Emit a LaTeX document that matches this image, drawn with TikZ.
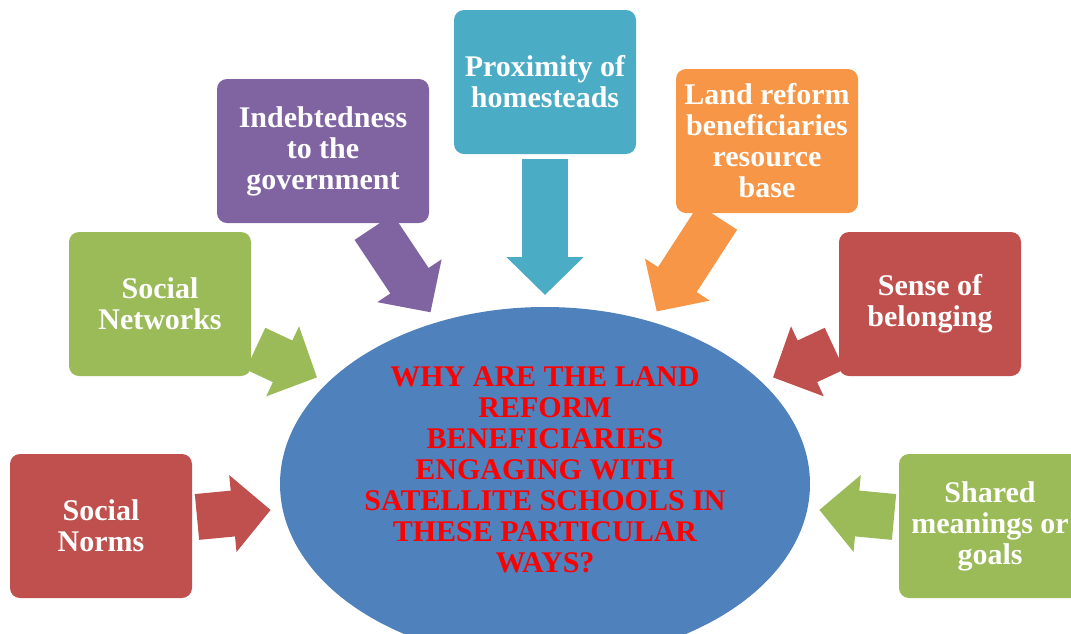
\documentclass[tikz,border=0pt]{standalone}
\usepackage{fontspec}
\setmainfont{Liberation Serif}
\usetikzlibrary{shapes.geometric,arrows.meta}
\definecolor{boxred}{HTML}{C0504D}
\definecolor{boxgreen}{HTML}{9BBB59}
\definecolor{boxpurple}{HTML}{8064A2}
\definecolor{boxteal}{HTML}{4BACC6}
\definecolor{boxorange}{HTML}{F79646}
\definecolor{qblue}{HTML}{4F81BD}
\definecolor{qred}{HTML}{FF0000}
\tikzset{
  factor/.style={draw=none, rounded corners=10pt, minimum width=182pt, minimum height=144pt,
    outer sep=0pt, inner sep=2pt, align=center, text=white,
    font=\fontsize{30}{31}\selectfont\bfseries},
  blockarrow/.style={line width=46pt, -{Triangle[length=38pt,width=75pt]},
    shorten <=5pt, shorten >=12pt}
}
\begin{document}
\begin{tikzpicture}[x=1pt,y=1pt,yscale=-1]
\clip (0,0) rectangle (1071,633);

%Ellipse [question]
\node[ellipse, fill=qblue, minimum width=530pt, minimum height=354pt, inner sep=0pt, outer sep=0pt] (q) at (545,484) {};
\node[align=center, text=qred, font=\fontsize{30}{31}\selectfont\bfseries] (qtext) at (545,470)
  {WHY ARE THE LAND\\REFORM\\BENEFICIARIES\\ENGAGING WITH\\SATELLITE SCHOOLS IN\\THESE PARTICULAR\\WAYS?};

%Rounded Rects [factors]
\node[factor, fill=boxred] (norms) at (101,526) {Social\\Norms};
\node[factor, fill=boxgreen] (networks) at (160,304) {Social\\Networks};
\node[factor, fill=boxpurple, minimum width=212pt] (debt) at (323,151) {Indebtedness\\to the\\government};
\node[factor, fill=boxteal] (homes) at (545,82) {Proximity of\\homesteads};
\node[factor, fill=boxorange] (resource) at (767,141) {Land reform\\beneficiaries\\resource\\base};
\node[factor, fill=boxred] (belong) at (930,304) {Sense of\\belonging};
\node[factor, fill=boxgreen] (shared) at (990,526) {Shared\\meanings or\\goals};

%Block Arrows
\draw[blockarrow, boxred] (norms) -- (q);
\draw[blockarrow, boxgreen] (networks) -- (q);
\draw[blockarrow, boxpurple] (debt) -- (q);
\draw[blockarrow, boxteal] (homes) -- (q);
\draw[blockarrow, boxorange] (resource) -- (q);
\draw[blockarrow, boxred] (belong) -- (q);
\draw[blockarrow, boxgreen] (shared) -- (q);
\end{tikzpicture}
\end{document}
